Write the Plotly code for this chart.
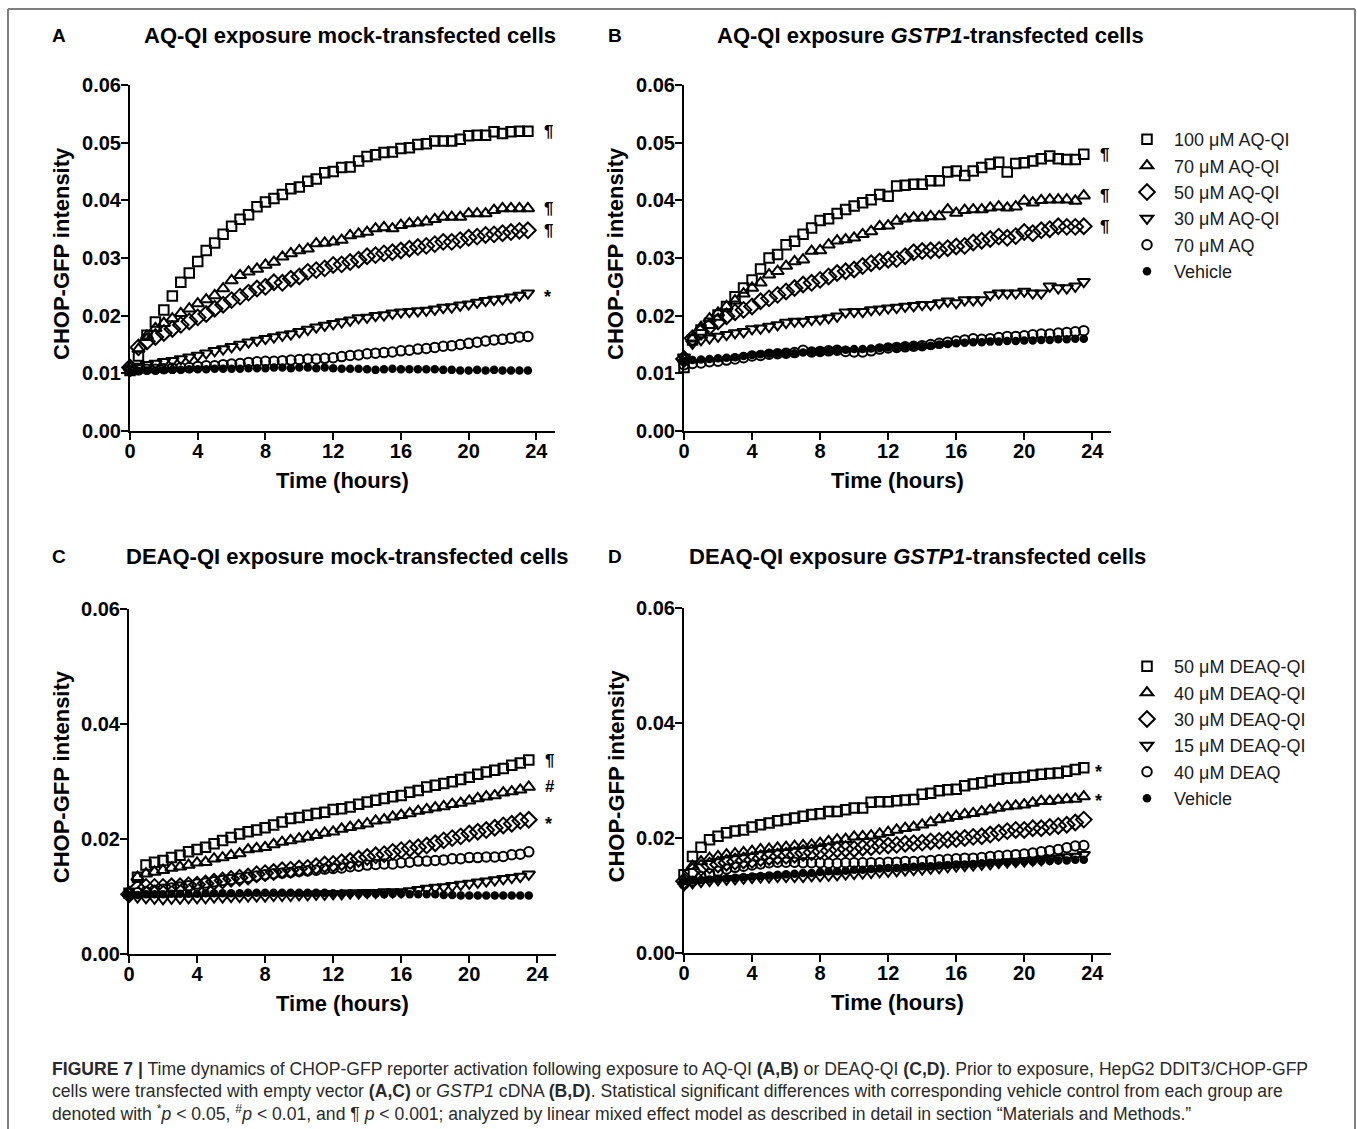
import plotly.graph_objects as go

W, H = 1357, 1129

time_h = [0, 0.5, 1, 1.5, 2, 2.5, 3, 3.5, 4, 4.5, 5, 5.5, 6, 6.5, 7, 7.5, 8, 8.5,
          9, 9.5, 10, 10.5, 11, 11.5, 12, 12.5, 13, 13.5, 14, 14.5, 15, 15.5, 16, 16.5,
          17, 17.5, 18, 18.5, 19, 19.5, 20, 20.5, 21, 21.5, 22, 22.5, 23, 23.5]

x_ticks = [0, 4, 8, 12, 16, 20, 24]
y_ticks_ab = [0, 0.01, 0.02, 0.03, 0.04, 0.05, 0.06]
y_ticks_cd = [0, 0.02, 0.04, 0.06]

names_aq = ["100 μM AQ-QI", "70 μM AQ-QI", "50 μM AQ-QI", "30 μM AQ-QI", "70 μM AQ", "Vehicle"]
names_deaq = ["50 μM DEAQ-QI", "40 μM DEAQ-QI", "30 μM DEAQ-QI", "15 μM DEAQ-QI", "40 μM DEAQ", "Vehicle"]

# Panel A: AQ-QI, mock-transfected
A_sq = [0.0105, 0.0130, 0.0166, 0.0189, 0.0210, 0.0234, 0.0258, 0.0274, 0.0294, 0.0313, 0.0326, 0.0341,
        0.0355, 0.0367, 0.0375, 0.0389, 0.0397, 0.0403, 0.0410, 0.0420, 0.0423, 0.0433, 0.0437, 0.0448,
        0.0450, 0.0457, 0.0458, 0.0468, 0.0476, 0.0479, 0.0483, 0.0484, 0.0490, 0.0491, 0.0497, 0.0498,
        0.0503, 0.0503, 0.0503, 0.0506, 0.0512, 0.0513, 0.0513, 0.0519, 0.0516, 0.0519, 0.0520, 0.0520]
A_tri = [0.0110, 0.0142, 0.0165, 0.0178, 0.0187, 0.0195, 0.0204, 0.0212, 0.0221, 0.0228, 0.0235, 0.0247,
         0.0261, 0.0270, 0.0276, 0.0281, 0.0288, 0.0293, 0.0302, 0.0308, 0.0313, 0.0316, 0.0325, 0.0326,
         0.0328, 0.0331, 0.0339, 0.0342, 0.0345, 0.0351, 0.0353, 0.0351, 0.0357, 0.0360, 0.0361, 0.0363,
         0.0367, 0.0371, 0.0371, 0.0371, 0.0377, 0.0377, 0.0377, 0.0383, 0.0386, 0.0386, 0.0386, 0.0386]
A_dia = [0.0110, 0.0145, 0.0155, 0.0163, 0.0170, 0.0177, 0.0184, 0.0190, 0.0197, 0.0203, 0.0212, 0.0219,
         0.0227, 0.0233, 0.0240, 0.0247, 0.0250, 0.0258, 0.0257, 0.0264, 0.0268, 0.0276, 0.0279, 0.0282,
         0.0288, 0.0289, 0.0293, 0.0297, 0.0303, 0.0305, 0.0308, 0.0310, 0.0313, 0.0316, 0.0319, 0.0321,
         0.0324, 0.0328, 0.0328, 0.0331, 0.0335, 0.0337, 0.0340, 0.0341, 0.0343, 0.0345, 0.0347, 0.0348]
A_dtri = [0.0105, 0.0112, 0.0115, 0.0117, 0.0120, 0.0122, 0.0125, 0.0128, 0.0131, 0.0135, 0.0139, 0.0142,
          0.0146, 0.0150, 0.0154, 0.0157, 0.0160, 0.0163, 0.0166, 0.0168, 0.0172, 0.0176, 0.0180, 0.0183,
          0.0186, 0.0189, 0.0192, 0.0196, 0.0197, 0.0200, 0.0201, 0.0204, 0.0206, 0.0207, 0.0208, 0.0209,
          0.0211, 0.0214, 0.0215, 0.0218, 0.0220, 0.0223, 0.0226, 0.0228, 0.0229, 0.0232, 0.0235, 0.0239]
A_circ = [0.0105, 0.0106, 0.0107, 0.0107, 0.0108, 0.0109, 0.0110, 0.0110, 0.0112, 0.0113, 0.0113, 0.0115,
          0.0116, 0.0117, 0.0119, 0.0120, 0.0121, 0.0121, 0.0122, 0.0123, 0.0124, 0.0125, 0.0125, 0.0126,
          0.0127, 0.0129, 0.0131, 0.0132, 0.0134, 0.0135, 0.0136, 0.0137, 0.0139, 0.0140, 0.0142, 0.0143,
          0.0145, 0.0147, 0.0148, 0.0150, 0.0152, 0.0154, 0.0156, 0.0158, 0.0159, 0.0161, 0.0163, 0.0164]
A_veh = [0.0102, 0.0104, 0.0105, 0.0105, 0.0106, 0.0106, 0.0106, 0.0107, 0.0107, 0.0107, 0.0108, 0.0108,
         0.0108, 0.0108, 0.0109, 0.0109, 0.0109, 0.0110, 0.0110, 0.0109, 0.0110, 0.0110, 0.0109, 0.0110,
         0.0109, 0.0108, 0.0108, 0.0108, 0.0107, 0.0106, 0.0107, 0.0108, 0.0107, 0.0107, 0.0107, 0.0107,
         0.0107, 0.0106, 0.0106, 0.0105, 0.0105, 0.0106, 0.0105, 0.0106, 0.0105, 0.0105, 0.0105, 0.0105]

# Panel B: AQ-QI, GSTP1-transfected
B_sq = [0.0110, 0.0158, 0.0175, 0.0187, 0.0201, 0.0216, 0.0233, 0.0248, 0.0262, 0.0281, 0.0300, 0.0306,
        0.0323, 0.0329, 0.0341, 0.0352, 0.0365, 0.0368, 0.0377, 0.0384, 0.0390, 0.0396, 0.0401, 0.0410,
        0.0407, 0.0425, 0.0426, 0.0428, 0.0428, 0.0434, 0.0434, 0.0449, 0.0451, 0.0443, 0.0451, 0.0457,
        0.0463, 0.0466, 0.0449, 0.0464, 0.0465, 0.0468, 0.0472, 0.0477, 0.0472, 0.0471, 0.0471, 0.0480]
B_tri = [0.0125, 0.0160, 0.0180, 0.0195, 0.0205, 0.0216, 0.0226, 0.0238, 0.0248, 0.0257, 0.0271, 0.0277,
         0.0286, 0.0294, 0.0297, 0.0312, 0.0313, 0.0323, 0.0330, 0.0332, 0.0335, 0.0341, 0.0346, 0.0355,
         0.0356, 0.0364, 0.0368, 0.0370, 0.0370, 0.0372, 0.0372, 0.0384, 0.0378, 0.0383, 0.0384, 0.0384,
         0.0387, 0.0389, 0.0387, 0.0389, 0.0399, 0.0396, 0.0400, 0.0401, 0.0401, 0.0401, 0.0399, 0.0408]
B_dia = [0.0125, 0.0161, 0.0172, 0.0181, 0.0190, 0.0199, 0.0206, 0.0210, 0.0216, 0.0225, 0.0230, 0.0236,
         0.0242, 0.0248, 0.0254, 0.0257, 0.0262, 0.0268, 0.0274, 0.0277, 0.0280, 0.0286, 0.0291, 0.0294,
         0.0297, 0.0298, 0.0303, 0.0310, 0.0312, 0.0313, 0.0314, 0.0317, 0.0320, 0.0321, 0.0327, 0.0330,
         0.0333, 0.0337, 0.0335, 0.0338, 0.0345, 0.0343, 0.0348, 0.0350, 0.0355, 0.0354, 0.0354, 0.0355]
B_dtri = [0.0128, 0.0152, 0.0158, 0.0161, 0.0164, 0.0167, 0.0170, 0.0172, 0.0177, 0.0178, 0.0181, 0.0184,
          0.0188, 0.0190, 0.0190, 0.0193, 0.0194, 0.0196, 0.0199, 0.0206, 0.0207, 0.0207, 0.0210, 0.0211,
          0.0213, 0.0214, 0.0216, 0.0217, 0.0219, 0.0219, 0.0222, 0.0225, 0.0222, 0.0227, 0.0227, 0.0227,
          0.0236, 0.0239, 0.0239, 0.0239, 0.0242, 0.0239, 0.0239, 0.0251, 0.0248, 0.0248, 0.0251, 0.0259]
B_circ = [0.0115, 0.0117, 0.0118, 0.0120, 0.0121, 0.0123, 0.0125, 0.0127, 0.0130, 0.0131, 0.0133, 0.0134,
          0.0135, 0.0136, 0.0140, 0.0137, 0.0138, 0.0139, 0.0140, 0.0138, 0.0137, 0.0137, 0.0139, 0.0142,
          0.0144, 0.0145, 0.0146, 0.0147, 0.0148, 0.0150, 0.0152, 0.0154, 0.0156, 0.0158, 0.0160, 0.0159,
          0.0160, 0.0162, 0.0164, 0.0164, 0.0165, 0.0167, 0.0168, 0.0168, 0.0170, 0.0171, 0.0172, 0.0174]
B_veh = [0.0122, 0.0123, 0.0124, 0.0125, 0.0126, 0.0127, 0.0128, 0.0130, 0.0132, 0.0133, 0.0134, 0.0134,
         0.0135, 0.0135, 0.0136, 0.0137, 0.0138, 0.0139, 0.0140, 0.0141, 0.0142, 0.0142, 0.0143, 0.0144,
         0.0145, 0.0145, 0.0146, 0.0147, 0.0147, 0.0148, 0.0150, 0.0151, 0.0152, 0.0153, 0.0154, 0.0154,
         0.0155, 0.0155, 0.0156, 0.0156, 0.0157, 0.0157, 0.0158, 0.0158, 0.0159, 0.0159, 0.0160, 0.0160]

# Panel C: DEAQ-QI, mock-transfected
C_sq = [0.0105, 0.0133, 0.0154, 0.0159, 0.0162, 0.0167, 0.0171, 0.0177, 0.0181, 0.0185, 0.0191, 0.0197,
        0.0202, 0.0208, 0.0212, 0.0215, 0.0219, 0.0224, 0.0229, 0.0235, 0.0237, 0.0241, 0.0244, 0.0246,
        0.0251, 0.0252, 0.0255, 0.0260, 0.0264, 0.0267, 0.0270, 0.0273, 0.0275, 0.0281, 0.0284, 0.0290,
        0.0293, 0.0296, 0.0299, 0.0303, 0.0307, 0.0312, 0.0316, 0.0319, 0.0322, 0.0328, 0.0332, 0.0337]
C_tri = [0.0105, 0.0133, 0.0139, 0.0142, 0.0145, 0.0149, 0.0151, 0.0154, 0.0158, 0.0159, 0.0165, 0.0167,
         0.0171, 0.0174, 0.0181, 0.0183, 0.0185, 0.0190, 0.0194, 0.0197, 0.0200, 0.0203, 0.0206, 0.0210,
         0.0212, 0.0217, 0.0220, 0.0223, 0.0226, 0.0231, 0.0233, 0.0238, 0.0241, 0.0244, 0.0248, 0.0251,
         0.0254, 0.0256, 0.0260, 0.0262, 0.0266, 0.0270, 0.0273, 0.0275, 0.0280, 0.0282, 0.0285, 0.0290]
C_dia = [0.0103, 0.0114, 0.0116, 0.0116, 0.0116, 0.0117, 0.0117, 0.0119, 0.0120, 0.0122, 0.0125, 0.0127,
         0.0130, 0.0132, 0.0134, 0.0138, 0.0140, 0.0142, 0.0145, 0.0146, 0.0148, 0.0149, 0.0152, 0.0155,
         0.0156, 0.0159, 0.0161, 0.0165, 0.0168, 0.0171, 0.0173, 0.0177, 0.0180, 0.0183, 0.0185, 0.0188,
         0.0192, 0.0197, 0.0201, 0.0204, 0.0209, 0.0212, 0.0215, 0.0219, 0.0223, 0.0226, 0.0231, 0.0233]
C_dtri = [0.0100, 0.0098, 0.0097, 0.0096, 0.0095, 0.0096, 0.0096, 0.0097, 0.0097, 0.0097, 0.0098, 0.0098,
          0.0099, 0.0099, 0.0100, 0.0100, 0.0100, 0.0101, 0.0101, 0.0101, 0.0102, 0.0102, 0.0103, 0.0103,
          0.0104, 0.0104, 0.0105, 0.0105, 0.0106, 0.0106, 0.0107, 0.0107, 0.0107, 0.0109, 0.0111, 0.0113,
          0.0115, 0.0116, 0.0118, 0.0120, 0.0122, 0.0124, 0.0126, 0.0128, 0.0130, 0.0132, 0.0134, 0.0138]
C_circ = [0.0104, 0.0106, 0.0108, 0.0110, 0.0112, 0.0114, 0.0116, 0.0118, 0.0121, 0.0123, 0.0125, 0.0127,
          0.0129, 0.0131, 0.0133, 0.0135, 0.0137, 0.0139, 0.0140, 0.0141, 0.0143, 0.0144, 0.0145, 0.0147,
          0.0148, 0.0149, 0.0151, 0.0152, 0.0154, 0.0155, 0.0156, 0.0156, 0.0158, 0.0159, 0.0161, 0.0161,
          0.0162, 0.0163, 0.0165, 0.0165, 0.0167, 0.0167, 0.0168, 0.0168, 0.0169, 0.0172, 0.0173, 0.0177]
C_veh = [0.0102, 0.0102, 0.0103, 0.0103, 0.0103, 0.0104, 0.0104, 0.0104, 0.0104, 0.0105, 0.0105, 0.0105,
         0.0105, 0.0105, 0.0106, 0.0106, 0.0106, 0.0106, 0.0106, 0.0106, 0.0106, 0.0106, 0.0106, 0.0106,
         0.0105, 0.0105, 0.0105, 0.0105, 0.0104, 0.0104, 0.0103, 0.0104, 0.0104, 0.0103, 0.0103, 0.0103,
         0.0103, 0.0102, 0.0102, 0.0101, 0.0101, 0.0101, 0.0101, 0.0101, 0.0101, 0.0101, 0.0101, 0.0101]

# Panel D: DEAQ-QI, GSTP1-transfected
D_sq = [0.0136, 0.0168, 0.0184, 0.0197, 0.0203, 0.0209, 0.0212, 0.0214, 0.0219, 0.0223, 0.0226, 0.0230,
        0.0232, 0.0235, 0.0238, 0.0241, 0.0242, 0.0246, 0.0246, 0.0249, 0.0252, 0.0252, 0.0262, 0.0263,
        0.0263, 0.0265, 0.0266, 0.0267, 0.0276, 0.0278, 0.0282, 0.0284, 0.0285, 0.0291, 0.0294, 0.0296,
        0.0299, 0.0302, 0.0304, 0.0305, 0.0306, 0.0309, 0.0311, 0.0312, 0.0313, 0.0316, 0.0319, 0.0322]
D_tri = [0.0125, 0.0151, 0.0159, 0.0165, 0.0168, 0.0171, 0.0173, 0.0175, 0.0177, 0.0180, 0.0181, 0.0183,
         0.0184, 0.0186, 0.0187, 0.0188, 0.0191, 0.0194, 0.0197, 0.0198, 0.0202, 0.0203, 0.0204, 0.0207,
         0.0210, 0.0214, 0.0217, 0.0219, 0.0223, 0.0227, 0.0232, 0.0235, 0.0238, 0.0241, 0.0243, 0.0246,
         0.0249, 0.0252, 0.0255, 0.0256, 0.0258, 0.0261, 0.0264, 0.0264, 0.0266, 0.0267, 0.0268, 0.0272]
D_dia = [0.0125, 0.0142, 0.0148, 0.0152, 0.0154, 0.0157, 0.0159, 0.0161, 0.0162, 0.0165, 0.0167, 0.0168,
         0.0169, 0.0171, 0.0174, 0.0175, 0.0177, 0.0178, 0.0180, 0.0181, 0.0181, 0.0183, 0.0184, 0.0186,
         0.0187, 0.0188, 0.0190, 0.0191, 0.0192, 0.0194, 0.0195, 0.0197, 0.0198, 0.0200, 0.0202, 0.0203,
         0.0206, 0.0209, 0.0212, 0.0214, 0.0214, 0.0217, 0.0217, 0.0219, 0.0221, 0.0223, 0.0227, 0.0232]
D_dtri = [0.0118, 0.0122, 0.0124, 0.0126, 0.0127, 0.0128, 0.0129, 0.0130, 0.0131, 0.0132, 0.0132, 0.0133,
          0.0133, 0.0133, 0.0133, 0.0134, 0.0134, 0.0135, 0.0136, 0.0137, 0.0138, 0.0139, 0.0140, 0.0141,
          0.0142, 0.0143, 0.0144, 0.0145, 0.0146, 0.0147, 0.0148, 0.0150, 0.0151, 0.0152, 0.0153, 0.0154,
          0.0155, 0.0157, 0.0158, 0.0159, 0.0160, 0.0161, 0.0162, 0.0164, 0.0165, 0.0167, 0.0168, 0.0171]
D_circ = [0.0120, 0.0125, 0.0133, 0.0138, 0.0142, 0.0146, 0.0149, 0.0151, 0.0153, 0.0155, 0.0157, 0.0158,
          0.0158, 0.0158, 0.0157, 0.0157, 0.0157, 0.0156, 0.0156, 0.0157, 0.0157, 0.0157, 0.0157, 0.0157,
          0.0158, 0.0158, 0.0159, 0.0159, 0.0160, 0.0161, 0.0162, 0.0163, 0.0164, 0.0165, 0.0165, 0.0166,
          0.0168, 0.0169, 0.0170, 0.0171, 0.0172, 0.0174, 0.0176, 0.0178, 0.0180, 0.0183, 0.0186, 0.0187]
D_veh = [0.0125, 0.0126, 0.0127, 0.0128, 0.0129, 0.0130, 0.0131, 0.0132, 0.0133, 0.0134, 0.0135, 0.0136,
         0.0137, 0.0138, 0.0139, 0.0139, 0.0141, 0.0142, 0.0142, 0.0143, 0.0145, 0.0145, 0.0146, 0.0147,
         0.0148, 0.0148, 0.0149, 0.0150, 0.0151, 0.0151, 0.0152, 0.0153, 0.0154, 0.0154, 0.0155, 0.0156,
         0.0157, 0.0157, 0.0158, 0.0158, 0.0159, 0.0159, 0.0160, 0.0160, 0.0161, 0.0161, 0.0162, 0.0162]

# significance marks: (series index, symbol)
sig_A = [(0, "¶"), (1, "¶"), (2, "¶"), (3, "*")]
sig_B = [(0, "¶"), (1, "¶"), (2, "¶")]
sig_C = [(0, "¶"), (1, "#"), (2, "*")]
sig_D = [(0, "*"), (1, "*")]

# ---------------- styling / layout ----------------
FONT = "Liberation Sans"
symbols = ["square-open", "triangle-up-open", "diamond-open", "triangle-down-open", "circle-open", "circle"]
msizes = [9.5, 11, 12, 11, 9.5, 8.5]


def px(x):
    return x / W


def py(y):
    return 1 - y / H


panels = [
    dict(key="A", series=[A_sq, A_tri, A_dia, A_dtri, A_circ, A_veh], names=names_aq, legend=None,
         xdom=(130, 555), ydom=(431, 85), yticks=y_ticks_ab, sig=sig_A, sigx=24.35,
         label_x=59, title_x=350, title_y=35,
         title="<b>AQ-QI exposure mock-transfected cells</b>", ytitle_x=62),
    dict(key="B", series=[B_sq, B_tri, B_dia, B_dtri, B_circ, B_veh], names=names_aq, legend="legend",
         xdom=(684, 1111), ydom=(431, 85), yticks=y_ticks_ab, sig=sig_B, sigx=24.35,
         label_x=615, title_x=930, title_y=35,
         title="<b>AQ-QI exposure <i>GSTP1</i>-transfected cells</b>", ytitle_x=616),
    dict(key="C", series=[C_sq, C_tri, C_dia, C_dtri, C_circ, C_veh], names=names_deaq, legend=None,
         xdom=(129, 556), ydom=(953.5, 609), yticks=y_ticks_cd, sig=sig_C, sigx=24.35,
         label_x=59, title_x=347, title_y=557,
         title="<b>DEAQ-QI exposure mock-transfected cells</b>", ytitle_x=61),
    dict(key="D", series=[D_sq, D_tri, D_dia, D_dtri, D_circ, D_veh], names=names_deaq, legend="legend2",
         xdom=(684, 1111), ydom=(953, 608), yticks=y_ticks_cd, sig=sig_D, sigx=24.05,
         label_x=615, title_x=917, title_y=557,
         title="<b>DEAQ-QI exposure <i>GSTP1</i>-transfected cells</b>", ytitle_x=616),
]

fig = go.Figure()
annotations = []
layout_axes = {}

for i, p in enumerate(panels):
    n = i + 1
    xa = "x" if n == 1 else f"x{n}"
    ya = "y" if n == 1 else f"y{n}"
    for s_idx, (vals, name) in enumerate(zip(p["series"], p["names"])):
        sym = symbols[s_idx]
        filled = not sym.endswith("open")
        fig.add_trace(go.Scatter(
            x=time_h, y=vals, mode="markers", name=name,
            xaxis=xa, yaxis=ya, cliponaxis=False, hoverinfo="skip",
            showlegend=p["legend"] is not None,
            legend=p["legend"] if p["legend"] is not None else "legend",
            marker=dict(symbol=sym, size=msizes[s_idx], color="black",
                        line=dict(color="black", width=0 if filled else 2)),
        ))
    axis_common = dict(showline=True, linecolor="black", linewidth=2, ticks="outside",
                       ticklen=7, tickwidth=2, tickcolor="black", showgrid=False, zeroline=False,
                       automargin=False,
                       tickfont=dict(family=FONT, size=20, color="black", weight="bold"))
    layout_axes["xaxis" if n == 1 else f"xaxis{n}"] = dict(
        domain=[px(p["xdom"][0]), px(p["xdom"][1])], range=[0, 25.1], anchor=ya,
        tickvals=x_ticks, ticktext=[str(v) for v in x_ticks], ticklabelstandoff=-6, **axis_common)
    layout_axes["yaxis" if n == 1 else f"yaxis{n}"] = dict(
        domain=[py(p["ydom"][0]), py(p["ydom"][1])], range=[0, 0.06], anchor=xa,
        tickvals=p["yticks"], ticktext=[f"{v:.2f}" for v in p["yticks"]], ticklabelstandoff=-4,
        **axis_common)

    # panel letter and title
    annotations.append(dict(text=f"<b>{p['key']}</b>", x=px(p["label_x"]), y=py(p["title_y"]),
                            xref="paper", yref="paper", showarrow=False, xanchor="center",
                            yanchor="middle", font=dict(family=FONT, size=19, color="black")))
    annotations.append(dict(text=p["title"], x=px(p["title_x"]), y=py(p["title_y"]),
                            xref="paper", yref="paper", showarrow=False, xanchor="center",
                            yanchor="middle", font=dict(family=FONT, size=22, color="black")))
    # axis titles
    xmid = (p["xdom"][0] + p["xdom"][1]) / 2
    annotations.append(dict(text="<b>Time (hours)</b>", x=px(xmid), y=py(p["ydom"][0] + 50),
                            xref="paper", yref="paper", showarrow=False, xanchor="center",
                            yanchor="middle", font=dict(family=FONT, size=22, color="black")))
    ymid = (p["ydom"][0] + p["ydom"][1]) / 2 - 4
    annotations.append(dict(text="<b>CHOP-GFP intensity</b>", x=px(p["ytitle_x"]), y=py(ymid),
                            xref="paper", yref="paper", showarrow=False, xanchor="center",
                            yanchor="middle", textangle=-90,
                            font=dict(family=FONT, size=22, color="black")))
    # significance marks
    for s_idx, mark in p["sig"]:
        annotations.append(dict(text=f"<b>{mark}</b>", x=p["sigx"], y=p["series"][s_idx][-1],
                                xref=xa, yref=ya, showarrow=False, xanchor="left", yanchor="middle",
                                yshift=-4 if mark == "*" else 0,
                                font=dict(family=FONT, size=17 if mark != "*" else 18, color="black")))

caption_lines = [
    "<b>FIGURE 7 |</b> Time dynamics of CHOP-GFP reporter activation following exposure to AQ-QI "
    "<b>(A,B)</b> or DEAQ-QI <b>(C,D)</b>. Prior to exposure, HepG2 DDIT3/CHOP-GFP",
    "cells were transfected with empty vector <b>(A,C)</b> or <i>GSTP1</i> cDNA <b>(B,D)</b>. "
    "Statistical significant differences with corresponding vehicle control from each group are",
    "denoted with <sup>*</sup><i>p</i> &lt; 0.05, <sup>#</sup><i>p</i> &lt; 0.01, and ¶ <i>p</i> &lt; 0.001; "
    "analyzed by linear mixed effect model as described in detail in section “Materials and Methods.”",
]
caption_y = [1069, 1091, 1113]
for line, yy in zip(caption_lines, caption_y):
    annotations.append(dict(text=line, x=px(50), y=py(yy), xref="paper", yref="paper",
                            showarrow=False, xanchor="left", yanchor="middle",
                            font=dict(family=FONT, size=17.6, color="#2a2a2a")))

border = "#7f7f7f"
shapes = [
    dict(type="line", xref="paper", yref="paper", x0=px(8), x1=px(1355), y0=py(9), y1=py(9),
         line=dict(color=border, width=2)),
    dict(type="line", xref="paper", yref="paper", x0=px(8), x1=px(8), y0=py(9), y1=0,
         line=dict(color=border, width=2)),
    dict(type="line", xref="paper", yref="paper", x0=px(1355), x1=px(1355), y0=py(9), y1=0,
         line=dict(color=border, width=2)),
]

legend_style = dict(font=dict(family=FONT, size=18, color="#1a1a1a"), bgcolor="rgba(0,0,0,0)",
                    xanchor="left", yanchor="top", tracegroupgap=0, itemclick=False,
                    itemwidth=44)

fig.update_layout(
    template="none",
    width=W, height=H, autosize=False,
    margin=dict(l=0, r=0, t=0, b=0, pad=0, autoexpand=False),
    paper_bgcolor="white", plot_bgcolor="white",
    showlegend=True, hovermode=False,
    legend=dict(x=px(1120), y=py(121), **legend_style),
    legend2=dict(x=px(1120), y=py(648), **legend_style),
    annotations=annotations, shapes=shapes,
    **layout_axes,
)

fig.write_html("out.html", config={"displayModeBar": False},
               post_script="document.body.style.margin='0';document.body.style.overflow='hidden';")
